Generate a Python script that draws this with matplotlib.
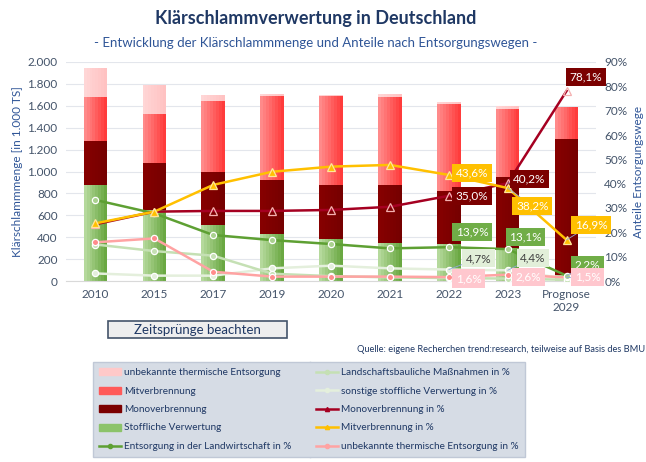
import numpy as np
import matplotlib.pyplot as plt
from matplotlib.patches import Patch, Rectangle
from matplotlib.lines import Line2D
from matplotlib.colors import to_rgb
from matplotlib.ticker import FuncFormatter

plt.rcParams['font.family'] = ['Lato', 'DejaVu Sans']

# --- Daten ---
jahre = ['2010', '2015', '2017', '2019', '2020', '2021', '2022', '2023', 'Prognose\n2029']

# Mengen in 1.000 t TS (Balken)
stofflich = [881, 647, 511, 429, 383, 343, 334, 300, 55]
mono = [399, 435, 480, 492, 498, 532, 487, 651, 1242]
mit = [401, 447, 650, 769, 804, 806, 799, 623, 293]
unbekannt = [264, 264, 61, 15, 15, 24, 15, 25, 0]

# Anteile in % (Linien)
landwirtschaft_pct = [33.3, 27.8, 18.9, 16.8, 15.2, 13.4, 13.9, 13.1, 2.2]
landschaftsbau_pct = [15.0, 12.3, 10.4, 3.0, 2.0, 1.5, 1.2, 1.0, 0.5]
sonstige_pct = [3.1, 2.2, 2.2, 5.2, 6.3, 5.2, 4.7, 4.4, 1.0]
mono_pct = [23.3, 28.5, 28.8, 28.8, 29.2, 30.5, 35.0, 40.2, 78.1]
mit_pct = [23.7, 28.5, 39.5, 44.9, 47.0, 47.7, 43.6, 38.2, 16.9]
unbekannt_pct = [15.9, 17.5, 3.8, 1.8, 1.8, 1.8, 1.6, 2.6, 1.5]

navy = '#1f3864'
blau = '#2f5597'

fig = plt.figure(figsize=(6.46, 4.62), dpi=100)
ax = fig.add_axes([66 / 646, 1 - 281 / 462, 530 / 646, 219 / 462])
x = np.arange(len(jahre))
w = 0.4
n_streifen = 8

# gestapelte Balken mit einfachem Farbverlauf (links hell -> rechts kräftig)
b0 = np.zeros(len(x))
farben = [('#b5d99c', '#6aa842'), ('#860000', '#760000'), ('#ff8a8a', '#ff3c3c'), ('#ffd6d6', '#ffc2c2')]
for werte, (hell, dunkel) in zip([stofflich, mono, mit, unbekannt], farben):
    werte = np.array(werte, dtype=float)
    h, d = np.array(to_rgb(hell)), np.array(to_rgb(dunkel))
    sw = w / n_streifen
    for k in range(n_streifen):
        t = k / (n_streifen - 1)
        c = h + (d - h) * t
        ax.bar(x - w / 2 + sw * (k + 0.5), werte, sw * 1.02, bottom=b0, color=c, lw=0, zorder=2)
    b0 += werte

ax.set_xlim(-0.5, len(x) - 0.5)
ax.set_ylim(0, 2000)
ax.set_yticks(range(0, 2001, 200))
ax.yaxis.set_major_formatter(FuncFormatter(lambda v, p: f'{int(v):,}'.replace(',', '.')))
ax.grid(axis='y', color='#e3e6ec', lw=0.8, zorder=0)
ax.set_axisbelow(True)
ax.set_xticks(x)
ax.set_xticklabels(jahre)
for s in ax.spines.values():
    s.set_visible(False)
ax.spines['bottom'].set_visible(True)
ax.spines['bottom'].set_color('#d9d9d9')
ax.tick_params(length=0, labelsize=8.5, labelcolor='#44546a', pad=6)
ax.set_ylabel('Klärschlammmenge [in 1.000 TS]', color=blau, fontsize=8.5, labelpad=3)

# Linien (rechte Achse)
ax2 = ax.twinx()
ax2.set_ylim(0, 90)
ax2.set_yticks(range(0, 91, 10))
ax2.yaxis.set_major_formatter(FuncFormatter(lambda v, p: f'{int(v)}%'))
for s in ax2.spines.values():
    s.set_visible(False)
ax2.tick_params(length=0, labelsize=8.5, labelcolor='#44546a', pad=6)
ax2.set_ylabel('Anteile Entsorgungswege', color=blau, fontsize=8.5, labelpad=4)

linien = [
    (sonstige_pct, '#e4efdc', 'o', '#e4efdc', 'white'),
    (landschaftsbau_pct, '#c5e0b4', 'o', '#c5e0b4', 'white'),
    (unbekannt_pct, '#ffa3a3', 'o', '#ff8c8c', 'white'),
    (landwirtschaft_pct, '#5ea033', 'o', '#a9d18e', 'white'),
    (mono_pct, '#a50021', '^', 'none', '#f4b0b0'),
    (mit_pct, '#ffc000', '^', '#ffc000', '#ffe699'),
]
for werte, c, m, mfc, mec in linien:
    ax2.plot(x, werte, color=c, lw=1.8, marker=m, ms=5.5 if m == '^' else 4.5,
             mfc=mfc, mec=mec, mew=0.9, zorder=3)

# Datenbeschriftungen: (Reihe, Index, dx, dy, Hintergrund, Textfarbe, Führungslinie)
leader = dict(arrowstyle='-', color='#8faadc', lw=0.6, shrinkA=0, shrinkB=0)
beschriftungen = [
    (landwirtschaft_pct, 6, 5, 11, '#70ad47', 'white', False),
    (landwirtschaft_pct, 7, 1, 9, '#70ad47', 'white', False),
    (landwirtschaft_pct, 8, 6, 7.5, '#70ad47', 'white', True),
    (sonstige_pct, 6, 12, 8, '#e2efd9', '#404040', True),
    (sonstige_pct, 7, 9, 9, '#e2efd9', '#404040', True),
    (unbekannt_pct, 6, 5, -1, '#ffc7ce', 'white', False),
    (unbekannt_pct, 7, 6, -1.5, '#ffc7ce', 'white', False),
    (unbekannt_pct, 8, 6, 0, '#ffc7ce', 'white', True),
    (mono_pct, 6, 5, 0, '#7b0000', 'white', False),
    (mono_pct, 7, 4, 3, '#7b0000', 'white', True),
    (mono_pct, 8, 2, 10, '#7b0000', 'white', False),
    (mit_pct, 6, 5, 1.5, '#ffc000', 'white', False),
    (mit_pct, 7, 6, -13, '#ffc000', 'white', True),
    (mit_pct, 8, 6, 11, '#ffc000', 'white', True),
]
for werte, i, dx, dy, fc, tc, lf in beschriftungen:
    txt = f'{werte[i]:.1f}%'.replace('.', ',')
    ax2.annotate(txt, (x[i], werte[i]), xytext=(dx, dy), textcoords='offset points',
                 ha='left', va='center', fontsize=8.5, color=tc, zorder=5,
                 bbox=dict(boxstyle='square,pad=0.3', fc=fc, ec='none'),
                 arrowprops=leader if lf else None)

# Titel
fig.text(0.488, 0.96, 'Klärschlammverwertung in Deutschland', ha='center', va='center',
         fontsize=13, fontweight='bold', color=navy)
fig.text(0.488, 0.908, '- Entwicklung der Klärschlammmenge und Anteile nach Entsorgungswegen -',
         ha='center', va='center', fontsize=9.5, color=blau)

# Hinweisbox
fig.add_artist(Rectangle((108 / 646, 1 - 338 / 462), 179 / 646, 17 / 462, transform=fig.transFigure,
                         fc='#eeeeee', ec='#44546a', lw=1.2))
fig.text(197 / 646, 1 - 330 / 462, 'Zeitsprünge beachten', ha='center', va='center',
         fontsize=9.5, color=navy)
fig.text(0.998, 1 - 350 / 462, 'Quelle: eigene Recherchen trend:research, teilweise auf Basis des BMU',
         ha='right', va='center', fontsize=6.7, color=navy)

# Legende
handles = [
    Patch(color='#ffc9c9'), Patch(color='#ff5a5a'), Patch(color='#7b0000'), Patch(color='#8cc36a'),
    Line2D([], [], color='#5ea033', marker='o', ms=3, lw=1.8),
    Line2D([], [], color='#c5e0b4', marker='o', ms=3, lw=1.8),
    Line2D([], [], color='#e4efdc', marker='o', ms=3, lw=1.8),
    Line2D([], [], color='#a50021', marker='^', ms=3, lw=1.8),
    Line2D([], [], color='#ffc000', marker='^', ms=3, lw=1.8),
    Line2D([], [], color='#ffa3a3', marker='o', ms=3, lw=1.8),
]
labels = ['unbekannte thermische Entsorgung', 'Mitverbrennung', 'Monoverbrennung',
          'Stoffliche Verwertung', 'Entsorgung in der Landwirtschaft in %',
          'Landschaftsbauliche Maßnahmen in %', 'sonstige stoffliche Verwertung in %',
          'Monoverbrennung in %', 'Mitverbrennung in %', 'unbekannte thermische Entsorgung in %']
leg = fig.legend(handles, labels, loc='upper left', ncol=2, mode='expand',
                 bbox_to_anchor=(93 / 646, 1 - 362 / 462, 432 / 646, 0),
                 fontsize=7.2, labelcolor=navy, frameon=True, fancybox=False,
                 facecolor='#d6dce5', edgecolor='#c0c8d6', framealpha=1,
                 handlelength=2.2, handletextpad=0.3, labelspacing=0.95, borderpad=0.6,
                 borderaxespad=0)
fig.add_artist(Line2D([310 / 646, 310 / 646], [5 / 462, 100 / 462], color='#aab4c4', lw=1))

fig.savefig('out.png', dpi=100)
